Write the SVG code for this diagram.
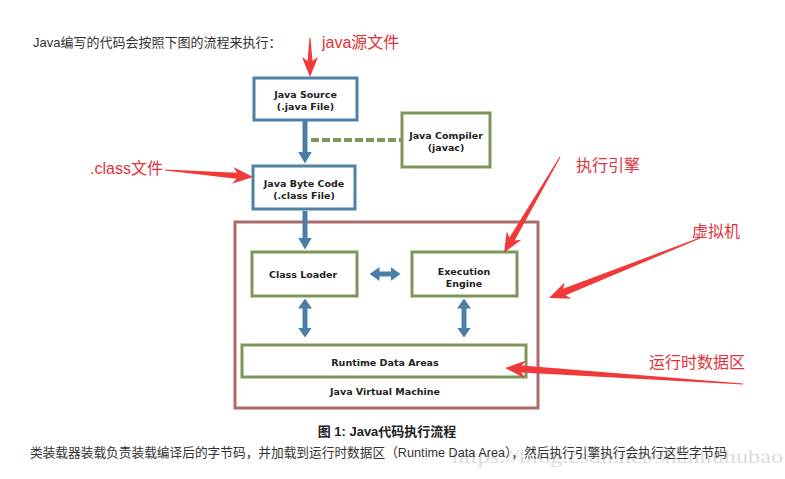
<svg xmlns="http://www.w3.org/2000/svg" width="785" height="479" viewBox="0 0 785 479">
<style>
.bg{fill:#ffffff}
.bbox{fill:#ffffff;stroke:#4f81a6;stroke-width:3}
.gbox{fill:#ffffff;stroke:#7d985a;stroke-width:3}
.jvm{fill:#ffffff;stroke:#ad6b6b;stroke-width:3}
.nt{font-family:"DejaVu Sans",Verdana,sans-serif;font-weight:bold;font-size:9.5px;fill:#222;text-anchor:middle}
.blue{stroke:#4a7ea6;stroke-width:5;fill:none}
.dash{stroke:#7d985a;stroke-width:4;stroke-dasharray:8 3;fill:none}
.red{fill:#f03a3a}
.rt{font-family:"Liberation Sans","Noto Sans CJK SC",sans-serif;font-size:16px;fill:#e0323c}
.body{font-family:"Liberation Sans","Noto Sans CJK SC",sans-serif;font-size:13px;fill:#333}
.cap{font-family:"Liberation Sans","Noto Sans CJK SC",sans-serif;font-size:13px;font-weight:bold;fill:#222;text-anchor:middle}
.wm{font-family:"Liberation Serif",serif;font-size:19px;fill:#dcdcdc}
</style>
<defs>
<marker id="bh" markerUnits="userSpaceOnUse" viewBox="0 0 12 14" refX="0.5" refY="7" markerWidth="12" markerHeight="14" orient="auto-start-reverse">
<path d="M0,0 L12,7 L0,14 z" fill="#4a7ea6"/>
</marker>
<marker id="bs" markerUnits="userSpaceOnUse" viewBox="0 0 10 14" refX="0.5" refY="7" markerWidth="10" markerHeight="14" orient="auto-start-reverse">
<path d="M0,0 L10,7 L0,14 z" fill="#4a7ea6"/>
</marker>
</defs>
<rect class="bg" x="0" y="0" width="785" height="479"/>

<text class="body" x="33" y="47">Java编写的代码会按照下图的流程来执行：</text>

<g id="jvm">
<rect class="jvm" x="235" y="222" width="303" height="186"/>
<text class="nt" x="385" y="395">Java Virtual Machine</text>
</g>

<g id="connectors">
<line class="blue" x1="305" y1="121" x2="305" y2="152" marker-end="url(#bh)"/>
<line class="dash" x1="311" y1="140" x2="401" y2="140"/>
<line class="blue" x1="305" y1="211" x2="305" y2="238" marker-end="url(#bh)"/>
<line class="blue" x1="379" y1="274" x2="391" y2="274" marker-start="url(#bs)" marker-end="url(#bs)"/>
<line class="blue" x1="305" y1="308" x2="305" y2="328" marker-start="url(#bs)" marker-end="url(#bs)"/>
<line class="blue" x1="464" y1="308" x2="464" y2="328" marker-start="url(#bs)" marker-end="url(#bs)"/>
</g>

<g id="java-source">
<rect class="bbox" x="254" y="78" width="103" height="42"/>
<text class="nt" x="305.5" y="97.5">Java Source</text>
<text class="nt" x="305.5" y="109.5">(.java File)</text>
</g>
<g id="java-compiler">
<rect class="gbox" x="402" y="113" width="88" height="54"/>
<text class="nt" x="446" y="138.5">Java Compiler</text>
<text class="nt" x="446" y="150.5">(javac)</text>
</g>
<g id="byte-code">
<rect class="bbox" x="253" y="166" width="102" height="43"/>
<text class="nt" x="304" y="186.5">Java Byte Code</text>
<text class="nt" x="304" y="198.5">(.class File)</text>
</g>
<g id="class-loader">
<rect class="gbox" x="252" y="252" width="105" height="44"/>
<text class="nt" x="303" y="277.5">Class Loader</text>
</g>
<g id="execution-engine">
<rect class="gbox" x="412" y="252" width="105" height="44"/>
<text class="nt" x="464" y="274.5">Execution</text>
<text class="nt" x="464" y="286.5">Engine</text>
</g>
<g id="runtime-data-areas">
<rect class="gbox" x="242" y="345" width="284" height="32"/>
<text class="nt" x="385" y="365.5">Runtime Data Areas</text>
</g>

<g id="annotations">
<polygon class="red" transform="translate(310,38) rotate(90)" points="0,-0.5 23,-2.5 19,-8 39,0 19,8 23,2.5 0,0.5"/>
<text class="rt" x="322" y="48">java源文件</text>
<polygon class="red" transform="translate(165,170) rotate(4.55)" points="0,-0.5 72,-3 68,-8.5 88.3,0 68,8.5 72,3 0,0.5"/>
<text class="rt" x="90" y="174">.class文件</text>
<polygon class="red" transform="translate(560,157) rotate(120.3)" points="0,-0.5 95,-3 91,-8.5 111,0 91,8.5 95,3 0,0.5"/>
<text class="rt" x="576" y="171">执行引擎</text>
<polygon class="red" transform="translate(700,238) rotate(158.3)" points="0,-0.5 146,-3.5 142,-9 162.5,0 142,9 146,3.5 0,0.5"/>
<text class="rt" x="692" y="237">虚拟机</text>
<polygon class="red" transform="translate(743,384) rotate(183.85)" points="0,-0.5 222,-3.5 218,-9 238.5,0 218,9 222,3.5 0,0.5"/>
<text class="rt" x="649" y="368">运行时数据区</text>
</g>

<text class="cap" x="387" y="436">图 1: Java代码执行流程</text>
<text class="wm" x="452" y="463" textLength="331" lengthAdjust="spacingAndGlyphs">https://blog.csdn.net/shanhuhubao</text>
<text class="body" x="30" y="457" textLength="697" lengthAdjust="spacingAndGlyphs">类装载器装载负责装载编译后的字节码，并加载到运行时数据区（Runtime Data Area），然后执行引擎执行会执行这些字节码</text>
</svg>
